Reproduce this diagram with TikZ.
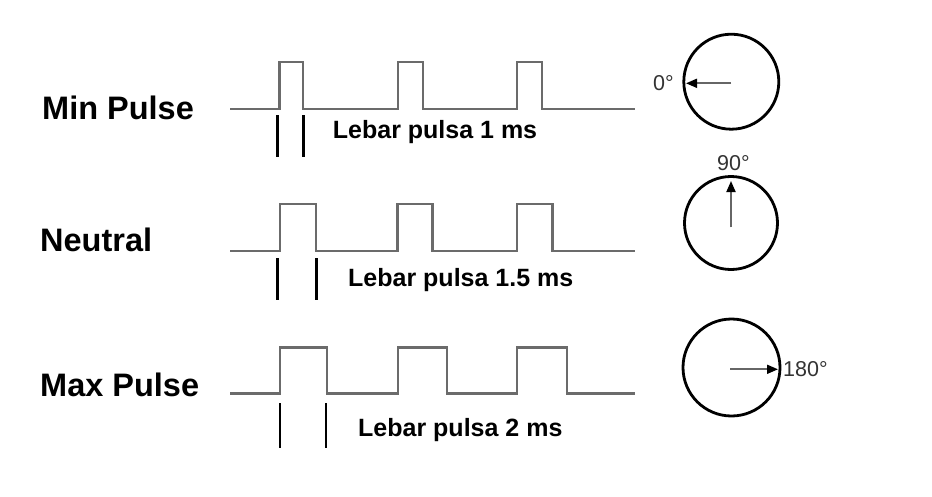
\documentclass[tikz,border=0pt]{standalone}
\usepackage{fontspec}
\setmainfont{Liberation Sans}
\usetikzlibrary{arrows.meta}
\begin{document}
\begin{tikzpicture}[x=1pt,y=-1pt,
  wave/.style={draw=black!58,line width=2.4pt,line join=miter},
  widthbar/.style={draw=black,line width=2.6pt},
  dial/.style={draw=black,line width=2.8pt},
  needle/.style={draw=black!60,line width=1.8pt,-{Triangle[length=11pt,width=9pt,color=black]}},
  rowlabel/.style={anchor=base west,inner sep=0pt,font=\fontsize{32.5}{32.5}\selectfont\bfseries},
  widthlabel/.style={anchor=base west,inner sep=0pt,font=\fontsize{25}{25}\selectfont\bfseries},
  anglelabel/.style={anchor=base west,inner sep=0pt,text=black!80,font=\fontsize{21.5}{21.5}\selectfont}]
\useasboundingbox (0,0) rectangle (932,496);
\fill[white] (0,0) rectangle (932,496);
% row labels
\node[rowlabel] (lmin) at (42,119) {Min Pulse};
\node[rowlabel] (lneu) at (40,251.5) {Neutral};
\node[rowlabel] (lmax) at (40,396) {Max Pulse};
% waveforms
\draw[wave] (230,109) -- (279.3,109) -- (279.3,61.7) -- (302.7,61.7) -- (302.7,109)
  -- (397.7,109) -- (397.7,61.7) -- (422.7,61.7) -- (422.7,109)
  -- (516.7,109) -- (516.7,61.7) -- (541.7,61.7) -- (541.7,109) -- (635,109);
\draw[wave] (230,251) -- (280,251) -- (280,204) -- (315.7,204) -- (315.7,251)
  -- (397.3,251) -- (397.3,204) -- (432.3,204) -- (432.3,251)
  -- (516.7,251) -- (516.7,204) -- (552.3,204) -- (552.3,251) -- (635,251);
\draw[wave] (230,393.3) -- (280,393.3) -- (280,347.3) -- (326.7,347.3) -- (326.7,393.3)
  -- (397.7,393.3) -- (397.7,347.3) -- (446.7,347.3) -- (446.7,393.3)
  -- (516.7,393.3) -- (516.7,347.3) -- (566.7,347.3) -- (566.7,393.3) -- (635,393.3);
% width markers
\draw[widthbar] (277.7,115) -- (277.7,156.7);
\draw[widthbar] (303.3,115) -- (303.3,156.7);
\draw[widthbar] (277.3,258) -- (277.3,300);
\draw[widthbar] (316.7,258) -- (316.7,300);
\draw[widthbar] (280,403) -- (280,448);
\draw[widthbar] (326,403) -- (326,448);
\node[widthlabel] (w1) at (332.7,138.3) {Lebar pulsa 1 ms};
\node[widthlabel] (w2) at (348,286.7) {Lebar pulsa 1.5 ms};
\node[widthlabel] (w3) at (358,436.7) {Lebar pulsa 2 ms};
% dials
\node[dial,circle,minimum size=95pt,inner sep=0pt] (d1) at (731.3,81.7) {};
\node[dial,circle,minimum size=93pt,inner sep=0pt] (d2) at (731,223) {};
\node[dial,circle,minimum size=97pt,inner sep=0pt] (d3) at (731.5,367.5) {};
\coordinate (c1) at (731,83.3);
\coordinate (t1) at (686,83.3);
\coordinate (c2) at (731,227.3);
\coordinate (t2) at (731,181);
\coordinate (c3) at (730,369.3);
\coordinate (t3) at (778,369.3);
\draw[needle] (c1) -- (t1);
\draw[needle] (c2) -- (t2);
\draw[needle] (c3) -- (t3);
\node[anglelabel] (a1) at (653,90.7) {0°};
\node[anglelabel] (a2) at (717,170) {90°};
\node[anglelabel] (a3) at (783,376.7) {180°};
\end{tikzpicture}
\end{document}
